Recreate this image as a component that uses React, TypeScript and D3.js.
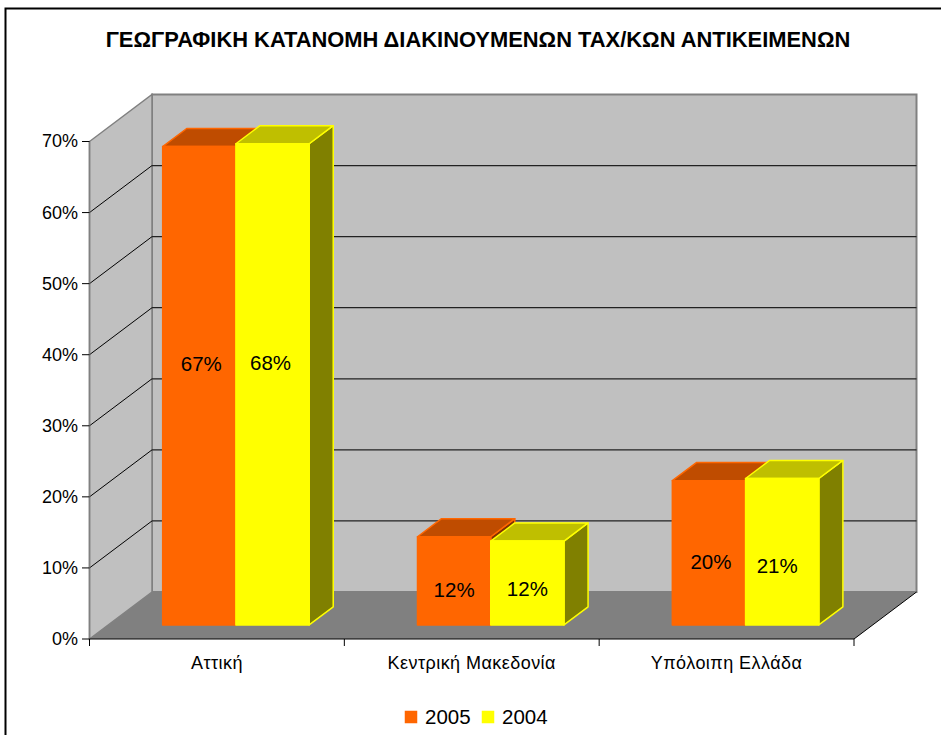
import React from "react";
import * as d3 from "d3";

const titleText = "ΓΕΩΓΡΑΦΙΚΗ ΚΑΤΑΝΟΜΗ ΔΙΑΚΙΝΟΥΜΕΝΩΝ ΤΑΧ/ΚΩΝ ΑΝΤΙΚΕΙΜΕΝΩΝ";
const categories = ["Αττική", "Κεντρική Μακεδονία", "Υπόλοιπη Ελλάδα"];
const seriesNames = ["2005", "2004"];
const values2005 = [67.3, 12.4, 20.3];
const values2004 = [67.7, 11.8, 20.6];
const labels2005 = ["67%", "12%", "20%"];
const labels2004 = ["68%", "12%", "21%"];
const yTicks = [0, 10, 20, 30, 40, 50, 60, 70];

const FONT = "'Liberation Sans', Arial, sans-serif";
const WALL = "#C0C0C0";
const FLOOR = "#808080";
const GREY = "#808080";
const FILLS = [
  { front: "#FF6600", top: "#BF4C00", side: "#803300", stroke: "#FF6600" },
  { front: "#FFFF00", top: "#BFBF00", side: "#808000", stroke: "#FFFF00" },
];
// Label anchor offsets from bar centre (hand-placed in the source chart)
const labelNudge = [
  [{ dx: 2, dy: -22 }, { dx: -2, dy: -22 }],
  [{ dx: 0, dy: 9 }, { dx: 0, dy: 6 }],
  [{ dx: 2, dy: 9 }, { dx: -5, dy: 14 }],
];

const x = d3.scaleLinear().domain([0, 3]).range([89.5, 854]);
const y = d3.scaleLinear().domain([0, 70]).range([639, 141.5]);
const DX = 62.5;
const DY = -47;
const proj = (cx: number, v: number, depth: number): [number, number] => [
  x(cx) + DX * depth,
  y(v) + DY * depth,
];
const poly = (pts: [number, number][]) => d3.line()(pts)! + "Z";
const GROUP = 146.5 / (764.5 / 3);
const series = d3.scaleBand<number>().domain([0, 1]).range([0, GROUP]);

const D0 = 0.3;
const D1 = 0.685;
const groupStart = (i: number) => i + (1 - GROUP) / 2 + 0.001;

export default function App() {
  const all = [values2005, values2004];
  const allLabels = [labels2005, labels2004];
  return (
    <svg
      width={941}
      height={735}
      style={{ position: "absolute", left: 0, top: 0, display: "block", background: "#fff" }}
      fontFamily={FONT}
    >
      <path d="M5.5,735V8.5H941" fill="none" stroke="#000" strokeWidth={2} />
      <text x={478} y={47} textAnchor="middle" fontSize={21.9} fontWeight="bold" fill="#000">
        {titleText}
      </text>

      {/* walls */}
      <path d={poly([proj(0, 0, 1), proj(3, 0, 1), proj(3, 70, 1), proj(0, 70, 1)])} fill={WALL} stroke={GREY} strokeWidth={2} />
      <path d={poly([proj(0, 0, 0), proj(0, 70, 0), proj(0, 70, 1), proj(0, 0, 1)])} fill={WALL} stroke={GREY} strokeWidth={1.5} />
      <path d={poly([proj(0, 0, 0), proj(3, 0, 0), proj(3, 0, 1), proj(0, 0, 1)])} fill={FLOOR} />

      {/* gridlines */}
      {yTicks.slice(1, -1).map((t) => (
        <g key={t} fill="none" strokeWidth={1}>
          <path d={d3.line()([proj(0, t, 0), proj(0, t, 1)])!} stroke="#000" />
          <path d={d3.line()([proj(0, t, 1), proj(3, t, 1)])!} stroke="#222" strokeWidth={1.2} />
        </g>
      ))}

      {/* axes */}
      <path d={d3.line()([proj(0, 0, 0), proj(0, 70, 0)])!} stroke={GREY} strokeWidth={1.5} fill="none" />
      <path d={d3.line()([proj(0, 0, 0), proj(3, 0, 0), proj(3, 0, 1)])!} stroke="#000" strokeWidth={1} fill="none" />
      {yTicks.map((t) => (
        <g key={t}>
          <line x1={82} x2={89.5} y1={y(t)} y2={y(t)} stroke="#000" />
          <text x={78} y={y(t) - 0.5} dy="0.36em" textAnchor="end" fontSize={18} fill="#000">
            {t}%
          </text>
        </g>
      ))}
      {[0, 1, 2, 3].map((c) => (
        <line key={c} x1={x(c)} x2={x(c)} y1={639} y2={646} stroke="#000" />
      ))}
      {categories.map((c, i) => (
        <text key={c} x={x(i + 0.5)} y={669} textAnchor="middle" fontSize={18} letterSpacing={0.45} fill="#000">
          {c}
        </text>
      ))}

      {/* bars */}
      {categories.map((_, i) => (
        <g key={i}>
          {all.map((vals, s) => {
            const x0 = groupStart(i) + series(s)!;
            const x1 = x0 + series.bandwidth();
            const v = vals[i];
            const f = FILLS[s];
            return (
              <g key={s} stroke={f.stroke} strokeWidth={1.5} strokeLinejoin="round">
                <path d={poly([proj(x1, 0, D0), proj(x1, 0, D1), proj(x1, v, D1), proj(x1, v, D0)])} fill={f.side} />
                <path d={poly([proj(x0, v, D0), proj(x1, v, D0), proj(x1, v, D1), proj(x0, v, D1)])} fill={f.top} />
                <path d={poly([proj(x0, 0, D0), proj(x1, 0, D0), proj(x1, v, D0), proj(x0, v, D0)])} fill={f.front} />
              </g>
            );
          })}
        </g>
      ))}

      {/* data labels */}
      {categories.map((_, i) =>
        all.map((vals, s) => {
          const x0 = groupStart(i) + series(s)!;
          const [px, py] = proj(x0 + series.bandwidth() / 2, vals[i] / 2, D0);
          const n = labelNudge[i][s];
          return (
            <text key={`${i}-${s}`} x={px + n.dx} y={py + n.dy} dy="0.36em" textAnchor="middle" fontSize={20.5} fill="#000">
              {allLabels[s][i]}
            </text>
          );
        })
      )}

      {/* legend */}
      {seriesNames.map((n, i) => {
        const lx = d3.scaleOrdinal<number, number>().domain([0, 1]).range([405, 482])(i);
        return (
          <g key={n}>
            <rect x={lx} y={711} width={12} height={12} fill={FILLS[i].front} stroke={i === 0 ? "#FF6600" : "#FFFF00"} strokeWidth={0.5} />
            <text x={lx + 20} y={724} fontSize={20.5} fill="#000">
              {n}
            </text>
          </g>
        );
      })}
    </svg>
  );
}
